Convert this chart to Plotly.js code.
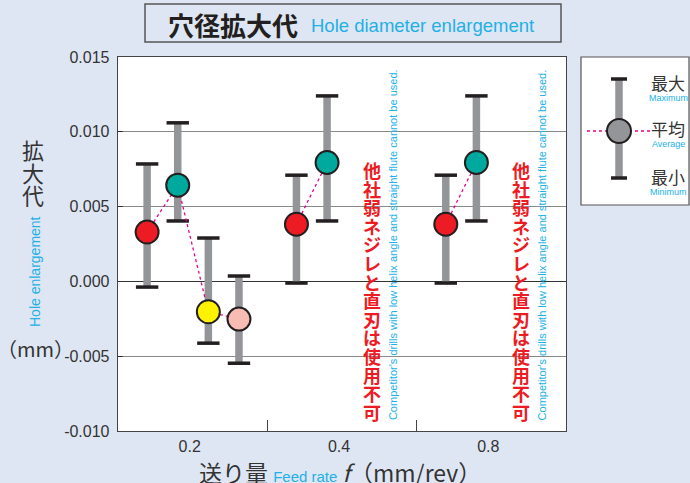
<!DOCTYPE html>
<html><head><meta charset="utf-8">
<script src="https://cdn.plot.ly/plotly-3.0.1.min.js"></script>
<style>html,body{margin:0;padding:0;background:#dfe6f3;}#c{width:690px;height:483px;}</style>
</head><body><div id="c"></div>
<script>
// ---- data ----
const feedLabels = ['0.2', '0.4', '0.8'];
const groupIdx = [0, 0, 0, 0, 1, 1, 2, 2];
const slotIdx  = [0, 1, 2, 3, 0, 1, 0, 1];
const avgVals = [0.0033, 0.00643, -0.00203, -0.00252, 0.00382, 0.00795, 0.00382, 0.00795];
const maxVals = [0.00785, 0.0106, 0.0029, 0.00036, 0.0071, 0.0124, 0.0071, 0.0124];
const minVals = [-0.00038, 0.00404, -0.00413, -0.00547, -0.00011, 0.00404, -0.00011, 0.00404];
const pointColors = ['#ed1c24', '#00a99d', '#fff200', '#f7bcb3', '#ed1c24', '#00a99d', '#ed1c24', '#00a99d'];
const yTickVals = [-0.01, -0.005, 0, 0.005, 0.01, 0.015];
const yTickText = ['-0.010', '-0.005', '0.000', '0.005', '0.010', '0.015'];
const noteJa = '他社弱ネジレと直刃は使用不可';
const noteEn = "Competitor's drills with low helix angle and straight flute cannot be used.";
const noteGroups = [1, 2];

// ---- layout helpers ----
const L = 118, R = 566, T = 57, B = 431;
const px = x => (x - L) / (R - L);
const py = y => (B - y) / (B - T);
const CJK = '"Noto Sans CJK JP", "Liberation Sans", sans-serif';
const LAT = '"Liberation Sans", Arial, sans-serif';
const CYAN = '#22b0e8';
const DARK = '#333333';

const xs = groupIdx.map((g, i) => g + 0.195 + slotIdx[i] * 0.205);

// bars
const barX = [], barY = [];
xs.forEach((x, i) => { barX.push(x, x, null); barY.push(minVals[i], maxVals[i], null); });
// caps
const capX = xs.concat(xs), capY = maxVals.concat(minVals);
// dashed connectors
const conX = [], conY = [];
xs.forEach((x, i) => {
  if (i > 0 && groupIdx[i] !== groupIdx[i - 1]) { conX.push(null); conY.push(null); }
  conX.push(x); conY.push(avgVals[i]);
});

const traces = [
  {x: barX, y: barY, mode: 'lines', line: {color: '#939598', width: 7.5}, hoverinfo: 'skip', showlegend: false},
  {x: capX, y: capY, mode: 'markers', marker: {symbol: 'line-ew', size: 16, color: '#231f20', line: {color: '#231f20', width: 3.5}}, hoverinfo: 'skip', showlegend: false},
  {x: conX, y: conY, mode: 'lines', line: {color: '#ec008c', width: 1.3, dash: '3px,3px'}, hoverinfo: 'skip', showlegend: false},
  {x: xs, y: avgVals, mode: 'markers', marker: {size: 23, color: pointColors, line: {color: '#231f20', width: 2}}, hoverinfo: 'skip', showlegend: false}
];

const ann = [];
const shapes = [];
// title box
shapes.push({type: 'rect', xref: 'paper', yref: 'paper', x0: px(145), x1: px(561), y0: py(42), y1: py(4), line: {color: '#555', width: 1.5}, fillcolor: 'rgba(0,0,0,0)'});
ann.push({xref: 'paper', yref: 'paper', x: px(166), y: py(24), xanchor: 'left', yanchor: 'middle', showarrow: false,
  text: '<b>穴径拡大代</b>', font: {family: CJK, size: 26, color: '#231f20'}});
ann.push({xref: 'paper', yref: 'paper', x: px(309), y: py(26), xanchor: 'left', yanchor: 'middle', showarrow: false,
  text: 'Hole diameter enlargement', font: {family: LAT, size: 18.5, color: CYAN}});

// y title
['拡', '大', '代'].forEach((ch, i) => ann.push({xref: 'paper', yref: 'paper', x: px(33), y: py(149 + i * 22.5), xanchor: 'center', yanchor: 'middle', showarrow: false,
  text: ch, font: {family: CJK, size: 22, color: DARK}}));
ann.push({xref: 'paper', yref: 'paper', x: px(35), y: py(272), xanchor: 'center', yanchor: 'middle', showarrow: false, textangle: -90,
  text: 'Hole enlargement', font: {family: LAT, size: 14, color: CYAN}});
ann.push({xref: 'paper', yref: 'paper', x: px(35), y: py(348), xanchor: 'center', yanchor: 'middle', showarrow: false,
  text: '（mm）', font: {family: CJK, size: 20, color: DARK}});

// x title
ann.push({xref: 'paper', yref: 'paper', x: px(340), y: py(472), xanchor: 'center', yanchor: 'middle', showarrow: false,
  text: '送り量 <span style="font-size:15px;color:' + CYAN + ';font-family:Liberation Sans">Feed rate</span> <i>f</i>（mm/rev）',
  font: {family: CJK, size: 23, color: DARK}});

// notes (white column behind the text breaks the gridlines)
noteGroups.forEach(g => {
  const xr = g + 0.70, xe = g + 0.842;
  shapes.push({type: 'rect', xref: 'x', yref: 'paper', x0: xr - 0.075, x1: xr + 0.06, y0: py(421), y1: py(158), line: {width: 0}, fillcolor: '#ffffff', layer: 'between'});
  shapes.push({type: 'rect', xref: 'x', yref: 'paper', x0: xe - 0.05, x1: xe + 0.04, y0: py(421), y1: py(66), line: {width: 0}, fillcolor: '#ffffff', layer: 'between'});
  Array.from(noteJa).forEach((ch, i) => ann.push({xref: 'x', yref: 'paper', x: xr, y: py(170 + i * 18.6), xanchor: 'center', yanchor: 'middle', showarrow: false,
    text: '<b>' + ch + '</b>', font: {family: CJK, size: 18, color: '#ed1c24'}}));
  ann.push({xref: 'x', yref: 'paper', x: xe, y: py(245), xanchor: 'center', yanchor: 'middle', showarrow: false, textangle: -90,
    text: noteEn, font: {family: LAT, size: 11, color: CYAN}});
});

// legend box
shapes.push({type: 'rect', xref: 'paper', yref: 'paper', x0: px(581), x1: px(689), y0: py(205), y1: py(57), line: {color: '#555', width: 1.2}, fillcolor: '#ffffff'});
shapes.push({type: 'line', xref: 'paper', yref: 'paper', x0: px(619), x1: px(619), y0: py(178), y1: py(79), line: {color: '#939598', width: 7.5}});
shapes.push({type: 'line', xref: 'paper', yref: 'paper', x0: px(611), x1: px(627), y0: py(79), y1: py(79), line: {color: '#231f20', width: 3.5}});
shapes.push({type: 'line', xref: 'paper', yref: 'paper', x0: px(611), x1: px(627), y0: py(178), y1: py(178), line: {color: '#231f20', width: 3.5}});
shapes.push({type: 'line', xref: 'paper', yref: 'paper', x0: px(587), x1: px(650), y0: py(131), y1: py(131), line: {color: '#ec008c', width: 1.3, dash: '3px,3px'}});
shapes.push({type: 'circle', xref: 'paper', yref: 'paper', x0: px(607), x1: px(631), y0: py(143), y1: py(119), line: {color: '#231f20', width: 2}, fillcolor: '#939598'});
[['最大', 'Maximum', 82], ['平均', 'Average', 128], ['最小', 'Minimum', 176]].forEach(r => {
  ann.push({xref: 'paper', yref: 'paper', x: px(668), y: py(r[2]), xanchor: 'center', yanchor: 'middle', showarrow: false,
    text: r[0], font: {family: CJK, size: 17, color: DARK}});
  ann.push({xref: 'paper', yref: 'paper', x: px(668), y: py(r[2] + 16), xanchor: 'center', yanchor: 'middle', showarrow: false,
    text: r[1], font: {family: LAT, size: 9, color: CYAN}});
});

const layout = {
  width: 690, height: 483,
  margin: {l: L, r: 690 - R, t: T, b: 483 - B, pad: 0},
  paper_bgcolor: '#dfe6f3', plot_bgcolor: '#ffffff',
  showlegend: false,
  xaxis: {range: [0, 3], showgrid: false, zeroline: false, showline: true, mirror: true, linecolor: '#444', linewidth: 1.3,
    tickmode: 'array', tickvals: feedLabels.map((_, i) => i + 0.48), ticktext: feedLabels, ticks: '',
    tickfont: {family: LAT, size: 16, color: DARK},
    minor: {tickmode: 'array', tickvals: [1, 2], ticks: 'inside', ticklen: 11, tickwidth: 1, tickcolor: '#444', showgrid: false},
    fixedrange: true},
  yaxis: {range: [-0.01, 0.015], tickmode: 'array', tickvals: yTickVals, ticktext: yTickText,
    showgrid: true, gridcolor: '#8a8a8a', gridwidth: 1.2, zeroline: true, zerolinecolor: '#333', zerolinewidth: 1.2,
    showline: true, mirror: true, linecolor: '#444', linewidth: 1.3, ticks: 'inside', ticklen: 5, tickcolor: '#333',
    tickfont: {family: LAT, size: 16, color: DARK}, ticklabelstandoff: 4, fixedrange: true},
  shapes: shapes,
  annotations: ann
};
Plotly.newPlot('c', traces, layout, {displayModeBar: false, staticPlot: true});
</script></body></html>
